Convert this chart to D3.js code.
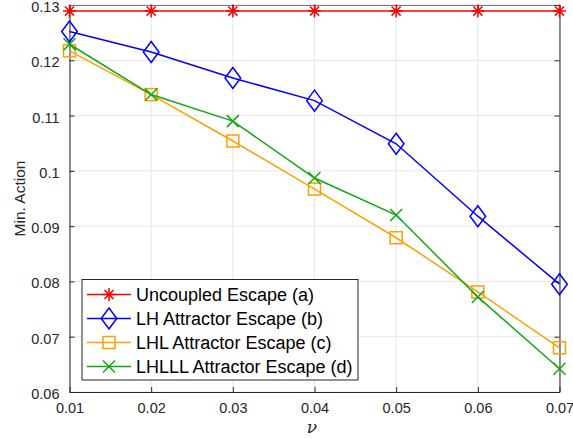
<!DOCTYPE html>
<html><head><meta charset="utf-8">
<script src="https://cdn.jsdelivr.net/npm/d3@7"></script>
<style>body{margin:0;background:#fff}svg{display:block;font-family:"Liberation Sans",Arial,sans-serif}</style>
</head><body>
<svg id="c" width="573" height="439"></svg>
<script>
const nu = [0.01, 0.02, 0.03, 0.04, 0.05, 0.06, 0.07];
const uncoupled = [0.1289, 0.1289, 0.1289, 0.1289, 0.1289, 0.1289, 0.1289];
const lhAttractor = [0.1252, 0.1215, 0.1168, 0.1127, 0.1049, 0.0918, 0.0795];
const lhlAttractor = [0.1217, 0.1138, 0.1054, 0.0967, 0.0879, 0.0781, 0.0680];
const lhlllAttractor = [0.1229, 0.1138, 0.1090, 0.0987, 0.0920, 0.0772, 0.0642];
const xTicks = [0.01, 0.02, 0.03, 0.04, 0.05, 0.06, 0.07];
const yTicks = [0.06, 0.07, 0.08, 0.09, 0.10, 0.11, 0.12, 0.13];
const yTickLabels = ["0.06", "0.07", "0.08", "0.09", "0.1", "0.11", "0.12", "0.13"];
const seriesNames = ["Uncoupled Escape (a)", "LH Attractor Escape (b)", "LHL Attractor Escape (c)", "LHLLL Attractor Escape (d)"];
const seriesColors = ["#ff0000", "#0000ff", "#ffa000", "#12a812"];
const seriesMarkers = ["asterisk", "diamond", "square", "cross"];
const seriesData = [uncoupled, lhAttractor, lhlAttractor, lhlllAttractor];

const svg = d3.select("#c");
const L = 69.5, R = 559.5, T = 5, B = 392;
const x = d3.scaleLinear().domain([0.01, 0.07]).range([L, R]);
const y = d3.scaleLinear().domain([0.06, 0.13]).range([B, T]);
const axisCol = "#262626";

// grid
const g = svg.append("g");
g.selectAll(".gx").data(xTicks).enter().append("line")
  .attr("x1", d => x(d)).attr("x2", d => x(d)).attr("y1", T).attr("y2", B)
  .attr("stroke", "#e6e6e6").attr("stroke-width", 1);
g.selectAll(".gy").data(yTicks).enter().append("line")
  .attr("y1", d => y(d)).attr("y2", d => y(d)).attr("x1", L).attr("x2", R)
  .attr("stroke", "#e6e6e6").attr("stroke-width", 1);

// axes
const xAxis = d3.axisBottom(x).tickValues(xTicks).tickFormat(d3.format(".2f")).tickSizeInner(-5).tickSizeOuter(0).tickPadding(11);
const yAxis = d3.axisLeft(y).tickValues(yTicks).tickFormat((d, i) => yTickLabels[i]).tickSizeInner(-5).tickSizeOuter(0).tickPadding(10);
const xa = svg.append("g").attr("transform", `translate(0,${B})`).call(xAxis);
const ya = svg.append("g").attr("transform", `translate(${L},0)`).call(yAxis);
const xTop = svg.append("g").attr("transform", `translate(0,${T})`).call(d3.axisTop(x).tickValues(xTicks).tickFormat("").tickSizeInner(-5).tickSizeOuter(0));
const yRight = svg.append("g").attr("transform", `translate(${R},0)`).call(d3.axisRight(y).tickValues(yTicks).tickFormat("").tickSizeInner(-5).tickSizeOuter(0));
[xa, ya, xTop, yRight].forEach(a => {
  a.select(".domain").attr("stroke", axisCol).attr("stroke-width", 1);
  a.selectAll(".tick line").attr("stroke", axisCol);
  a.selectAll(".tick text").attr("fill", axisCol).style("font-size", "14.5px").style("font-family", '"Liberation Sans",Arial,sans-serif');
});
ya.selectAll(".tick text").attr("dy", "0.45em");
xTop.select(".domain").attr("stroke", "#7a7a7a");

// labels
svg.append("text").attr("x", 312).attr("y", 433).attr("text-anchor", "middle")
  .style("font-size", "17px").style("font-style", "italic").style("font-family", '"DejaVu Serif","Liberation Serif",serif').attr("fill", axisCol).text("ν");
svg.append("text").attr("transform", `translate(25,${(T + B) / 2}) rotate(-90)`).attr("text-anchor", "middle")
  .style("font-size", "15.5px").attr("fill", axisCol).text("Min. Action");

function drawMarker(sel, type, color) {
  if (type === "asterisk") {
    const r = 6.5;
    sel.append("path").attr("d", `M${-r},0H${r}M0,${-r}V${r}M${-r*0.7},${-r*0.7}L${r*0.7},${r*0.7}M${-r*0.7},${r*0.7}L${r*0.7},${-r*0.7}`)
      .attr("stroke", color).attr("stroke-width", 1.5).attr("fill", "none");
  } else if (type === "diamond") {
    sel.append("path").attr("d", "M0,-10.5L7.8,0L0,10.5L-7.8,0Z").attr("stroke", color).attr("stroke-width", 1.5).attr("fill", "none");
  } else if (type === "square") {
    sel.append("rect").attr("x", -6).attr("y", -6).attr("width", 12).attr("height", 12).attr("stroke", color).attr("stroke-width", 1.5).attr("fill", "none");
  } else {
    const r = 6;
    sel.append("path").attr("d", `M${-r},${-r}L${r},${r}M${-r},${r}L${r},${-r}`).attr("stroke", color).attr("stroke-width", 1.5).attr("fill", "none");
  }
}

const line = d3.line().x((d, i) => x(nu[i])).y(d => y(d));
seriesData.forEach((vals, si) => {
  const sg = svg.append("g");
  sg.append("path").datum(vals).attr("d", line).attr("fill", "none").attr("stroke", seriesColors[si]).attr("stroke-width", 1.5);
  vals.forEach((v, i) => {
    const m = sg.append("g").attr("transform", `translate(${x(nu[i])},${y(v)})`);
    drawMarker(m, seriesMarkers[si], seriesColors[si]);
  });
});

// legend
const lg = svg.append("g");
lg.append("rect").attr("x", 82).attr("y", 279.5).attr("width", 276).attr("height", 100.5)
  .attr("fill", "#fff").attr("stroke", axisCol).attr("stroke-width", 1);
seriesNames.forEach((name, i) => {
  const yy = 294.5 + i * 24;
  lg.append("line").attr("x1", 87).attr("x2", 131).attr("y1", yy).attr("y2", yy).attr("stroke", seriesColors[i]).attr("stroke-width", 1.5);
  const m = lg.append("g").attr("transform", `translate(109,${yy})`);
  drawMarker(m, seriesMarkers[i], seriesColors[i]);
  lg.append("text").attr("x", 136).attr("y", yy + 6.3).style("font-size", "18px").attr("fill", "#000").text(name);
});
</script>
</body></html>
